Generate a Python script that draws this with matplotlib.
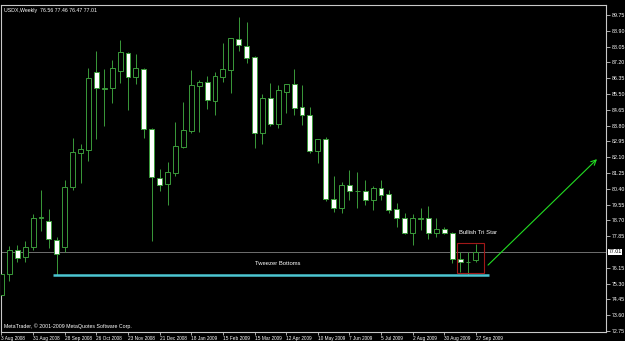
import matplotlib
matplotlib.use("Agg")
import matplotlib.pyplot as plt
from matplotlib.patches import Rectangle

# weekly USDX bars, 3 Aug 2008 .. 27 Sep 2009
opens = [74.69, 75.82, 77.11, 76.73, 77.27, 78.86, 78.67, 77.65, 77.27, 80.50,
         82.33, 82.49, 86.68, 85.80, 85.82, 86.74, 87.71, 86.42, 86.85, 83.62,
         80.98, 80.66, 81.25, 82.65, 83.51, 85.93, 86.15, 85.12, 86.42, 86.79,
         88.46, 88.08, 87.49, 83.40, 85.29, 83.89, 85.61, 86.04, 84.80, 84.37,
         82.43, 83.08, 79.85, 79.37, 80.61, 80.28, 80.28, 79.80, 80.44, 80.12,
         79.31, 78.83, 78.02, 78.80, 78.83, 78.02, 78.24, 78.02, 76.62, 76.46,
         76.56]
highs = [76.03, 77.32, 77.38, 77.59, 79.05, 80.34, 79.31, 77.81, 80.87, 83.13,
         82.81, 86.90, 87.81, 86.85, 87.33, 88.41, 87.76, 87.65, 86.90, 83.67,
         81.47, 81.84, 83.99, 85.07, 86.79, 86.25, 86.47, 86.68, 88.24, 88.51,
         89.64, 89.37, 87.55, 85.50, 86.09, 85.98, 86.04, 86.85, 85.98, 84.80,
         83.08, 83.19, 81.09, 80.77, 81.41, 81.30, 80.87, 80.55, 80.87, 80.34,
         79.64, 79.10, 79.05, 79.37, 79.48, 78.83, 78.35, 78.08, 77.00, 77.00,
         77.46]
lows = [73.23, 75.44, 76.46, 76.46, 77.11, 78.13, 77.22, 75.76, 77.00, 80.34,
        80.71, 81.90, 83.08, 83.78, 85.02, 86.09, 84.64, 86.04, 83.13, 77.59,
        80.28, 79.53, 81.09, 82.60, 83.40, 83.46, 84.69, 84.37, 86.15, 85.55,
        87.81, 87.17, 82.60, 82.81, 83.78, 83.67, 84.48, 84.37, 83.83, 82.33,
        81.79, 79.74, 79.15, 79.10, 79.80, 79.37, 79.53, 79.26, 79.80, 79.10,
        78.35, 77.97, 77.38, 78.18, 77.70, 77.81, 77.97, 76.41, 75.92, 75.76,
        76.47]
closes = [75.82, 77.11, 76.68, 77.27, 78.83, 78.91, 77.70, 76.89, 80.50, 82.38,
          82.54, 86.36, 85.82, 85.85, 86.90, 87.76, 86.42, 86.90, 83.62, 81.04,
          80.61, 81.30, 82.70, 83.56, 85.98, 86.15, 85.18, 86.47, 86.85, 88.51,
          88.14, 87.44, 83.40, 85.29, 83.89, 85.72, 86.04, 84.75, 84.37, 82.43,
          83.08, 79.85, 79.37, 80.61, 80.28, 80.31, 79.80, 80.44, 80.07, 79.26,
          78.83, 78.02, 78.83, 78.86, 78.02, 78.24, 78.04, 76.62, 76.46, 76.49,
          77.01]

date_labels = ["3 Aug 2008", "31 Aug 2008", "28 Sep 2008", "26 Oct 2008",
               "23 Nov 2008", "21 Dec 2008", "18 Jan 2009", "15 Feb 2009",
               "15 Mar 2009", "12 Apr 2009", "10 May 2009", "7 Jun 2009",
               "5 Jul 2009", "2 Aug 2009", "30 Aug 2009", "27 Sep 2009"]
date_pos = [0, 4, 8, 12, 16, 20, 24, 28, 32, 36, 40, 44, 48, 52, 56, 60]
price_ticks = [72.75, 73.60, 74.45, 75.30, 76.15, 77.85, 78.70, 79.55, 80.40,
               81.25, 82.10, 82.95, 83.80, 84.65, 85.50, 86.35, 87.20, 88.05,
               88.90, 89.75]

last_price = 77.01
tweezer_level = 75.74
tweezer_span = (6.55, 61.65)
tri_box = (57.57, 75.89, 3.42, 1.58)   # x, y, width, height
arrow_from = (61.53, 76.30)
arrow_to = (75.31, 82.00)

green = '#3a9a3a'
fg = '#c8c8c8'
fnt = 'Liberation Sans'

fig = plt.figure(figsize=(6.25, 3.41), dpi=100, facecolor='black')
ax = fig.add_axes([1.5 / 625, 9 / 341, 604.5 / 625, 327.5 / 341])
ax.set_facecolor('black')
ax.set_xlim(0.025, 76.45)
ax.set_ylim(72.70, 90.32)

w = 0.62
for i in range(len(opens)):
    o, h, l, c = opens[i], highs[i], lows[i], closes[i]
    ax.vlines(i, l, h, color=green, lw=0.7, zorder=2)
    bull = c >= o
    ax.add_patch(Rectangle((i - w / 2, min(o, c)), w, max(abs(c - o), 0.01),
                           facecolor='black' if bull else 'white',
                           edgecolor=green, lw=0.7, zorder=3))

ax.axhline(last_price, color='#808080', lw=0.6, zorder=1)
ax.hlines(tweezer_level, *tweezer_span, color='#4cc6d2', lw=1.8, zorder=4)
ax.text(34.9, 76.41, 'Tweezer Bottoms', color='white', fontsize=4.2,
        family=fnt, ha='center', va='center')
ax.add_patch(Rectangle(tri_box[:2], tri_box[2], tri_box[3], fill=False,
                       edgecolor='#a01818', lw=0.8, zorder=5))
ax.text(57.9, 78.08, 'Bullish Tri Star', color='white', fontsize=4.2,
        family=fnt, ha='left', va='center')
ax.annotate('', xy=arrow_to, xytext=arrow_from,
            arrowprops=dict(arrowstyle='->', color='#22dd22', lw=0.8,
                            mutation_scale=9, shrinkA=0, shrinkB=0))

ax.text(0.004, 0.988, 'USDX,Weekly  76.56 77.46 76.47 77.01', color='white',
        fontsize=3.8, family=fnt, transform=ax.transAxes, va='top')
ax.text(0.004, 0.008, 'MetaTrader, \u00a9 2001-2009 MetaQuotes Software Corp.',
        color='white', fontsize=3.8, family=fnt, transform=ax.transAxes,
        va='bottom')

for s in ax.spines.values():
    s.set_color(fg)
    s.set_linewidth(0.8)

ax.yaxis.tick_right()
ax.set_yticks(price_ticks, ['%.2f' % v for v in price_ticks])
ax.set_xticks(date_pos, date_labels)
for lab in ax.get_xticklabels():
    lab.set_ha('left')
ax.tick_params(colors=fg, labelcolor='white', labelsize=3.8, length=3,
               width=0.6, pad=1.5)
ax.tick_params(axis='x', labelsize=3.4, length=2, pad=0.6)
for lab in ax.get_xticklabels() + ax.get_yticklabels():
    lab.set_family(fnt)

ax.text(1.004, last_price, '%.2f' % last_price, color='black', fontsize=3.8,
        family=fnt, transform=ax.get_yaxis_transform(), va='center', ha='left',
        bbox=dict(boxstyle='square,pad=0.15', fc='white', ec='none'))

fig.savefig('out.png', dpi=100, facecolor='black')
